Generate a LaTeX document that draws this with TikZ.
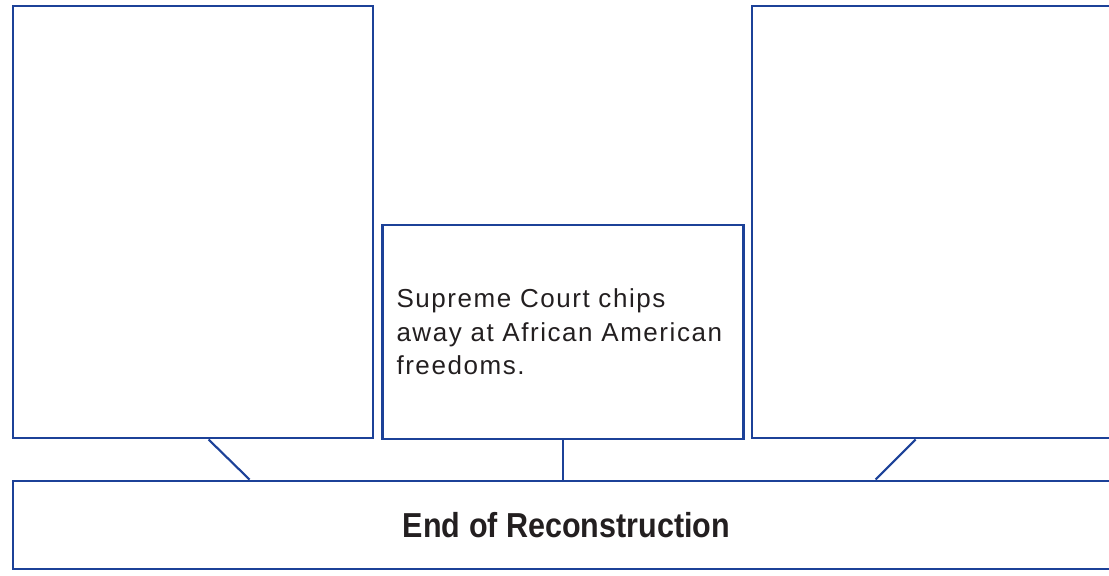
\documentclass[tikz,border=0pt]{standalone}
\usepackage{fontspec}
\usepackage{tikz}
\usetikzlibrary{calc}

\newfontfamily\bodyfont{Liberation Sans}[LetterSpace=6]
\newfontfamily\titlefont{Liberation Sans}[FakeStretch=0.88]
\definecolor{chartblue}{HTML}{1C4198}
\definecolor{inkgray}{HTML}{231F20}

\tikzset{
	bigbox/.style={draw=chartblue, line width=2.2pt, inner sep=0pt},
	eventbox/.style={draw=chartblue, line width=1.6pt, inner xsep=10.5pt, inner ysep=0pt,
		text=inkgray, align=left, font=\bodyfont\fontsize{19.5}{25}\selectfont},
	link/.style={draw=chartblue, line width=1.6pt}
}

\begin{document}
\begin{tikzpicture}[x=0.75pt, y=-0.75pt]
	\useasboundingbox (0,0) rectangle (1109,575);

	\node[bigbox, minimum width=270pt, minimum height=324pt] (left) at (193,222) {};
	\node[bigbox, minimum width=276pt, minimum height=324pt] (right) at (936,222) {};
	\node[eventbox, minimum width=270.75pt, minimum height=160.5pt, text width=249.75pt] (mid) at (563,332)
		{Supreme Court chips\\away at African American\\freedoms.};
	\node[bigbox, text=inkgray, minimum width=830.25pt, minimum height=66pt,
		font=\titlefont\fontsize{26}{30}\selectfont\bfseries] (bar) at (566.5,525) {End of Reconstruction};

	\path[link] ($(left.south west)+(197,0)$) -- ($(bar.north west)+(238,0)$);
	\path[link] (mid.south) -- (mid.south |- bar.north);
	\path[link] ($(right.south west)+(165,0)$) -- ($(bar.north west)+(864,0)$);
\end{tikzpicture}
\end{document}
